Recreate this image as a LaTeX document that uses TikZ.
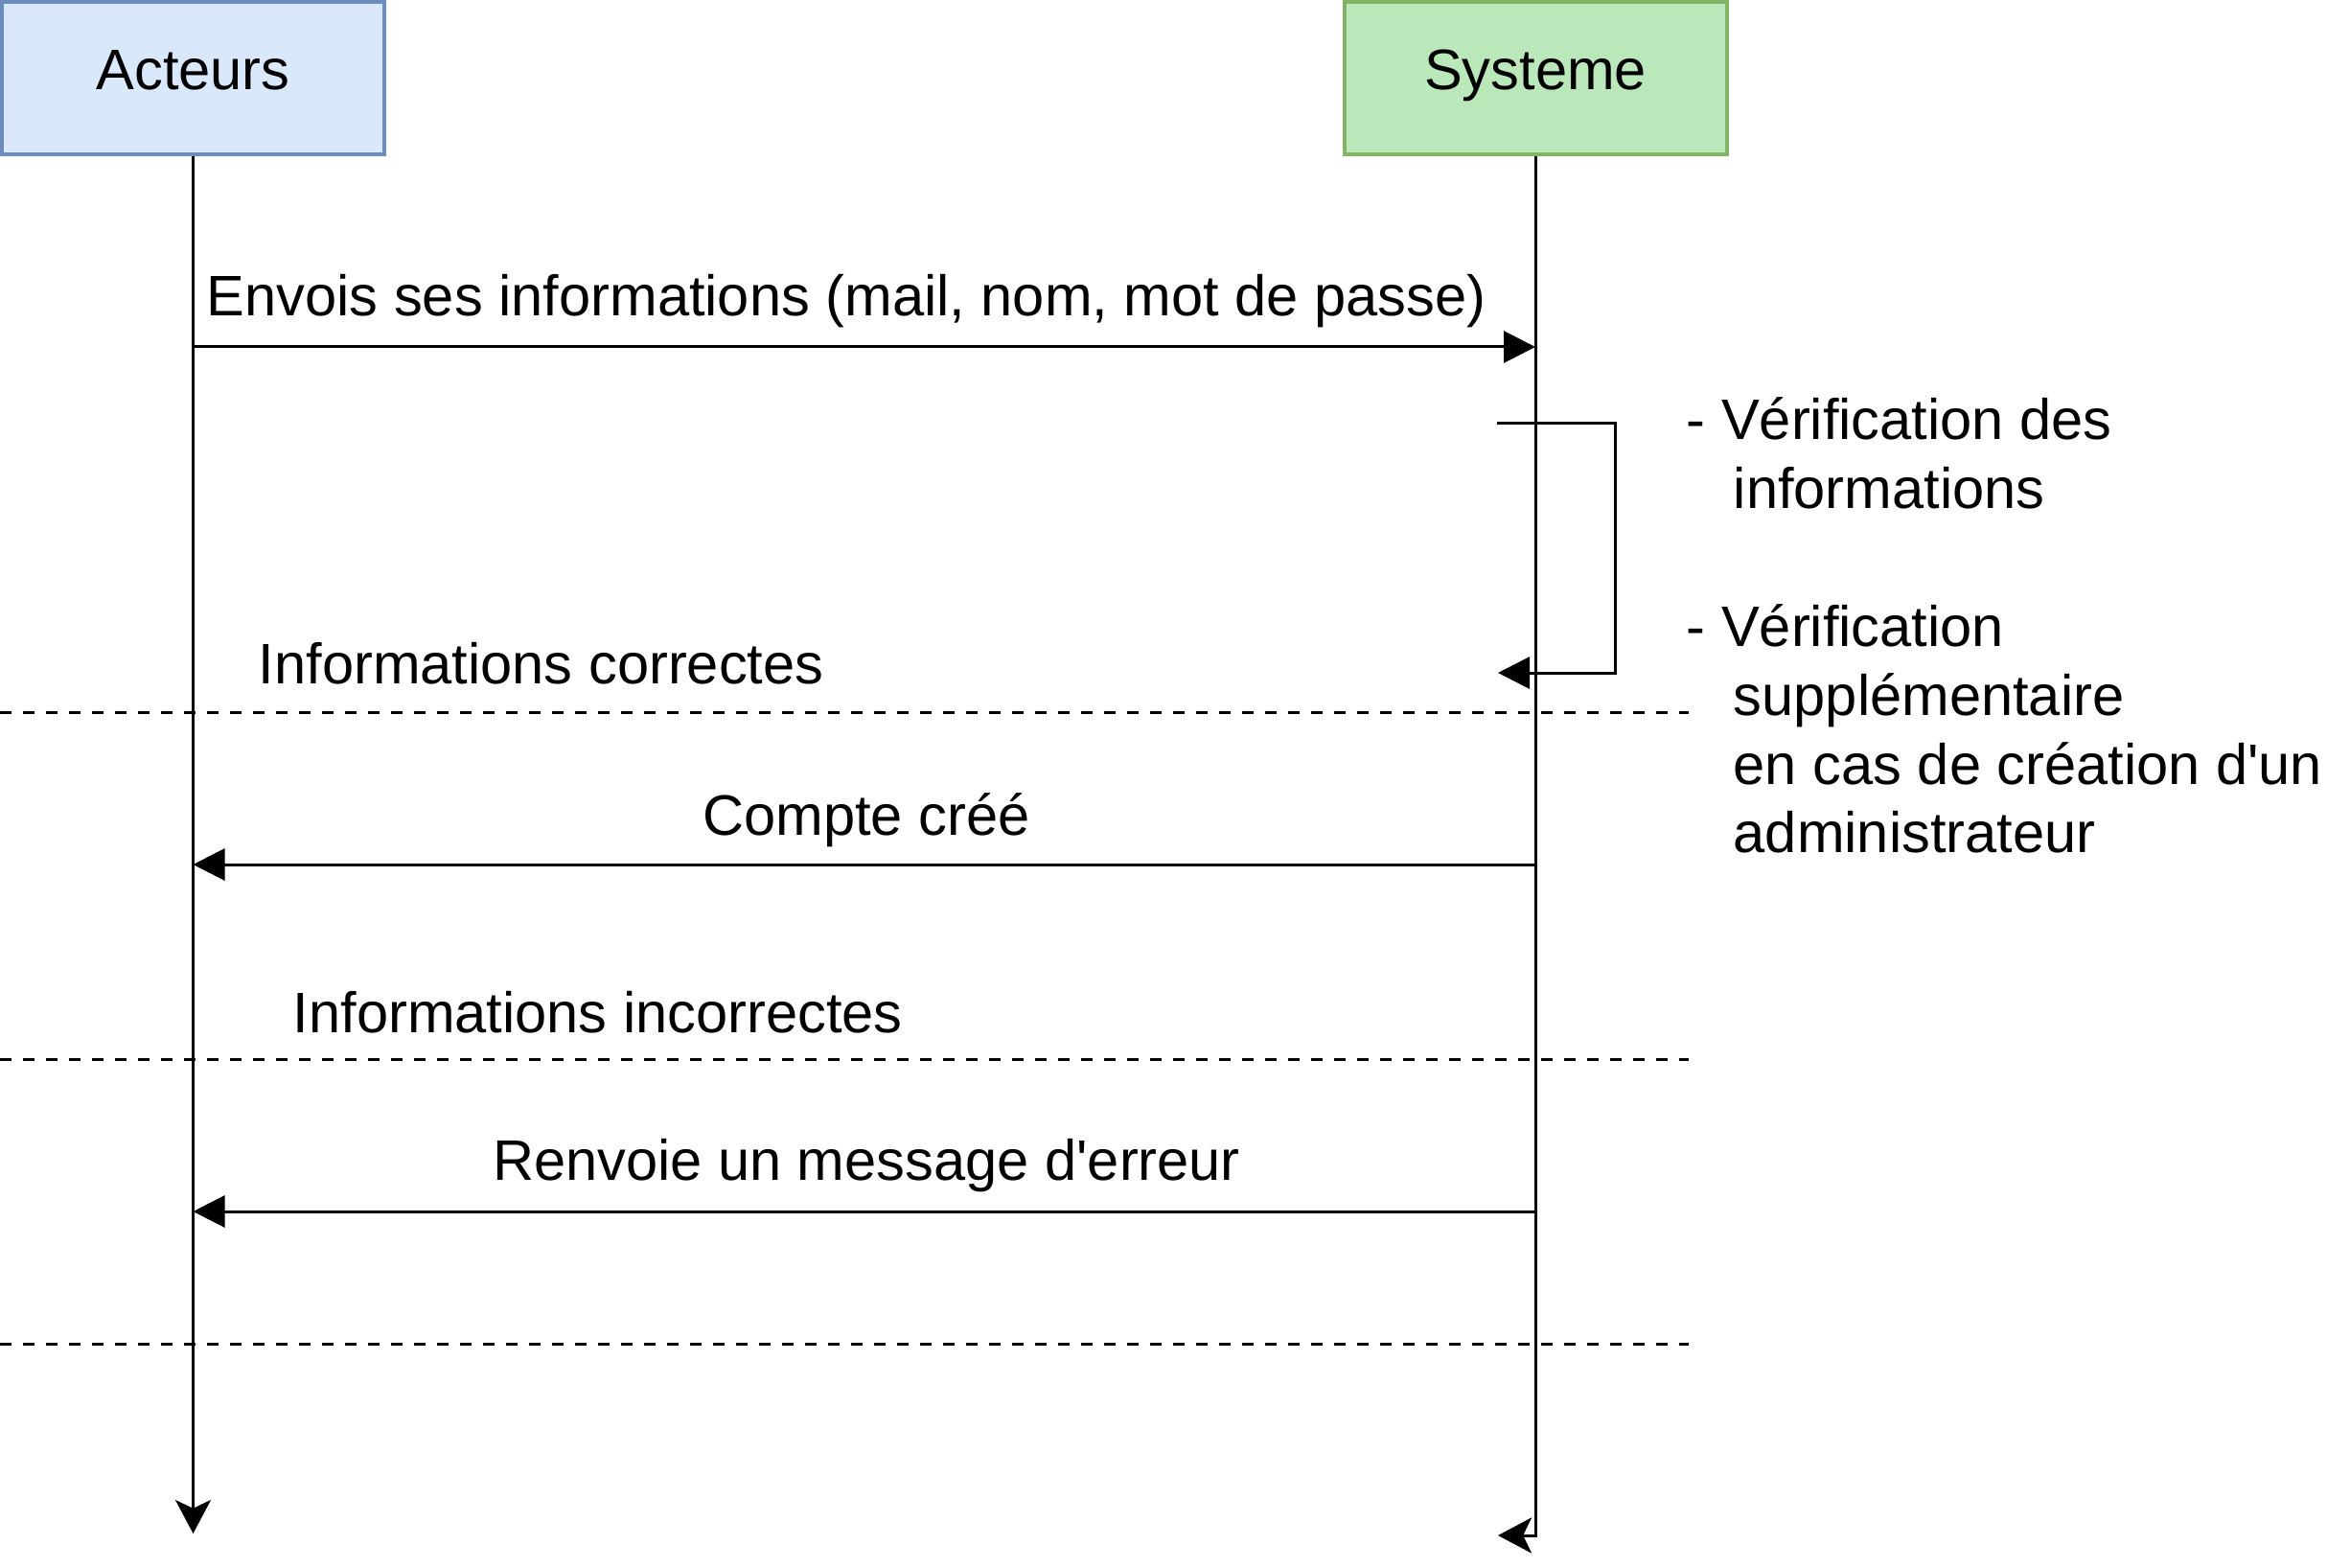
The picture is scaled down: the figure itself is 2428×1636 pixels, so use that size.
\documentclass[tikz,border=0pt]{standalone}
\usepackage{fontspec}
\setmainfont{Liberation Sans}
\usetikzlibrary{arrows.meta}
\definecolor{actfill}{HTML}{DAE8FC}
\definecolor{actline}{HTML}{6C8EBF}
\definecolor{sysfill}{HTML}{BBE8BB}
\definecolor{sysline}{HTML}{82B366}
\begin{document}
\begin{tikzpicture}[x=0.25pt,y=-0.25pt,
  every node/.style={font=\fontsize{14.9pt}{18pt}\selectfont, inner sep=0pt},
  lifebox/.style={draw, line width=1pt, minimum width=99.75pt, minimum height=39.75pt, text height=10.7pt, text depth=4.5pt},
  life/.style={line width=0.75pt, -{Stealth[length=8.75pt,width=9.25pt,inset=2.2pt]}},
  msg/.style={line width=0.75pt, -{Triangle[length=8.25pt,width=8.25pt]}},
  sep/.style={line width=0.75pt, dash pattern=on 3pt off 3pt},
  lbl/.style={anchor=base west},
  clbl/.style={anchor=base}]
\useasboundingbox (0,0) rectangle (2428,1636);

% participants
\node[lifebox, fill=actfill, draw=actline] (act) at (201.5,81.5) {Acteurs};
\node[lifebox, fill=sysfill, draw=sysline] (sys) at (1602,81.5) {Systeme};

% lifelines
\coordinate (actend) at (201.5,1600);
\coordinate (sysend) at (1563,1602);
\draw[life] (act.south) -- (actend);
\draw[life] (sys.south) |- (sysend);

% message 1
\coordinate (m1a) at (201.5,362);
\coordinate (m1b) at (1602,362);
\draw[msg] (m1a) -- (m1b);
\node[lbl] (t1) at (215,330) {Envois ses informations (mail, nom, mot de passe)};

% self loop
\coordinate (l1) at (1562,442);
\coordinate (l2) at (1563,702);
\draw[msg] (l1) -- ++(123,0) |- (l2);
\node[lbl] (v1) at (1759,458) {- Vérification des};
\node[lbl] (v2) at (1808,530) {informations};
\node[lbl] (v3) at (1759,674) {- Vérification};
\node[lbl] (v4) at (1808,746) {supplémentaire};
\node[lbl] (v5) at (1808,818) {en cas de création d\textquotesingle un};
\node[lbl] (v6) at (1808,889) {administrateur};

% separators
\coordinate (s1a) at (0,743);   \coordinate (s1b) at (1762,743);
\coordinate (s2a) at (0,1105);  \coordinate (s2b) at (1762,1105);
\coordinate (s3a) at (0,1402);  \coordinate (s3b) at (1762,1402);
\draw[sep] (s1a) -- (s1b);
\draw[sep] (s2a) -- (s2b);
\draw[sep] (s3a) -- (s3b);
\node[lbl] (c1) at (269,713) {Informations correctes};
\node[lbl] (c2) at (305,1077) {Informations incorrectes};

% message 2
\coordinate (m2a) at (1602,902);
\coordinate (m2b) at (201.5,902);
\draw[msg] (m2a) -- (m2b);
\node[clbl] (t2) at (904,871) {Compte créé};

% message 3
\coordinate (m3a) at (1602,1264);
\coordinate (m3b) at (201.5,1264);
\draw[msg] (m3a) -- (m3b);
\node[clbl] (t3) at (904,1231) {Renvoie un message d\textquotesingle erreur};
\end{tikzpicture}
\end{document}
